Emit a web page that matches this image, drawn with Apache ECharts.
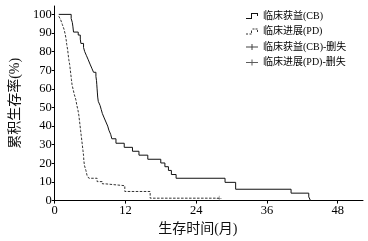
<!DOCTYPE html>
<html><head><meta charset="utf-8">
<script src="https://cdn.jsdelivr.net/npm/echarts@6/dist/echarts.min.js"></script>
<style>html,body{margin:0;padding:0;background:#fff}#c{width:368px;height:241px}</style>
</head><body><div id="c"></div>
<script>
// ---- data ----
const xTicks = [0, 12, 24, 36, 48];
const yTicks = [0, 10, 20, 30, 40, 50, 60, 70, 80, 90, 100];
const seriesNames = ['临床获益(CB)', '临床进展(PD)', '临床获益(CB)-删失', '临床进展(PD)-删失'];
const xName = '生存时间(月)';
const yName = '累积生存率(%)';

// [month, survival %] – Kaplan-Meier step points
const cbSurvival = [
  [0.7,100],[2.8,97.8],[3.0,95.6],[3.1,93.3],[3.2,90.5],[4.0,88.9],[4.35,86.7],[4.45,84.4],
  [4.9,82.2],[5.1,80],[5.4,77.8],[5.7,75.6],[6.0,73.3],[6.3,71.1],[6.6,68.9],[7.0,66.7],
  [7.1,64.4],[7.15,62.2],[7.2,60],[7.25,57.8],[7.3,55.6],[7.4,53.3],[7.7,51.1],[7.9,48.9],
  [8.1,46.7],[8.4,44.4],[8.7,42.2],[9.0,40],[9.2,37.8],[9.5,35.6],[9.7,33.2],[10.4,30.8],
  [11.8,28.6],[13.2,26.5],[14.3,24.4],[15.8,22.2],[18.0,20.2],[18.7,18.2],[19.3,16.2],
  [19.8,14.0],[20.6,12.0],[28.9,9.8],[30.7,6.1],[40.1,4.0],[43.1,2.0],[43.4,0]
];
const pdSurvival = [
  [0.7,99],[1.0,97.3],[1.3,94.6],[1.6,91.9],[1.8,89.2],[1.95,86.5],[2.05,83.8],[2.2,81.1],
  [2.3,78.4],[2.4,75.7],[2.55,73],[2.65,70.3],[2.75,67.6],[2.85,64.9],[2.95,62.2],[3.15,59.5],
  [3.35,56.8],[3.6,54.1],[3.75,51.4],[3.95,48.6],[4.1,45.9],[4.2,43.2],[4.3,40.5],[4.4,37.8],
  [4.5,35.1],[4.6,32.4],[4.7,29.7],[4.8,27],[4.9,24.3],[4.95,21.6],[5.05,18.9],[5.3,16.2],
  [5.5,13.5],[5.8,12],[7.2,10.2],[8.1,9],[8.6,8],[11.9,4.9],[16.2,1.3],[27.9,1.3]
];
const cbCensored = [];
const pdCensored = [[27.9,1.3]];

// ---- chart ----
const ink = '#111';
const serif = '"Liberation Serif","Noto Sans CJK SC",serif';
const iconCB = 'path://M0 5h6v1h-6z M5 0h1v6h-1z M5 0h7v1h-7z M11 0h1v3h-1z';
const iconPD = 'path://M0 5h2v1h-2z M3.5 5h2v1h-2z M5 2h1v2.5h-1z M6.5 0h2v1h-2z M9.5 0h2v1h-2z M11 1.5h1v2h-1z';
const iconCen = 'path://M0 2.5h12v1h-12z M5.5 0h1v6h-1z';
const plusSym = 'path://M0 4.5h10v1h-10z M4.5 0h1v10h-1z';

const chart = echarts.init(document.getElementById('c'), null, {renderer: 'canvas'});
chart.setOption({
  animation: false,
  backgroundColor: '#fff',
  grid: {left: 47, right: 5, top: 6, bottom: 38, containLabel: false},
  legend: {
    orient: 'vertical', left: 246, top: 10, padding: 0,
    itemWidth: 12, itemHeight: 6, itemGap: 3.5, symbolKeepAspect: false,
    itemStyle: {borderWidth: 0},
    textStyle: {fontSize: 10, color: '#000', fontFamily: serif, lineHeight: 12},
    data: [
      {name: seriesNames[0], icon: iconCB},
      {name: seriesNames[1], icon: iconPD},
      {name: seriesNames[2], icon: iconCen},
      {name: seriesNames[3], icon: iconCen}
    ]
  },
  xAxis: {
    type: 'value', min: 0, max: 52.3,
    name: xName, nameLocation: 'middle', nameGap: 21,
    nameTextStyle: {fontSize: 14, color: ink, fontFamily: serif, padding: [0, 22, 0, 0]},
    axisLine: {show: true, onZero: false, lineStyle: {color: '#000', width: 1}},
    axisTick: {show: true, length: 3, inside: false, customValues: xTicks, lineStyle: {color: '#000'}},
    axisLabel: {customValues: xTicks, fontSize: 12.5, color: '#000', fontFamily: serif, margin: 4},
    splitLine: {show: false}
  },
  yAxis: {
    type: 'value', min: 0, max: 104.5,
    name: yName, nameLocation: 'middle', nameGap: 25,
    nameTextStyle: {fontSize: 14, color: ink, fontFamily: serif},
    axisLine: {show: true, onZero: false, lineStyle: {color: '#000', width: 1}},
    axisTick: {show: true, length: 3, customValues: yTicks, lineStyle: {color: '#000'}},
    axisLabel: {customValues: yTicks, fontSize: 12.5, color: '#000', fontFamily: serif, margin: 3},
    splitLine: {show: false}
  },
  series: [
    {
      name: seriesNames[0], type: 'line', step: 'end', data: cbSurvival,
      symbol: 'none', color: ink,
      lineStyle: {color: ink, width: 1}
    },
    {
      name: seriesNames[1], type: 'line', step: 'end', data: pdSurvival,
      symbol: 'none', color: '#333',
      lineStyle: {color: '#333', width: 1, type: [2.5, 1.5]}
    },
    {
      name: seriesNames[2], type: 'scatter', data: cbCensored,
      symbol: plusSym, symbolSize: 5, color: ink
    },
    {
      name: seriesNames[3], type: 'scatter', data: pdCensored,
      symbol: plusSym, symbolSize: 5, color: '#333'
    }
  ]
});
</script>
</body></html>
